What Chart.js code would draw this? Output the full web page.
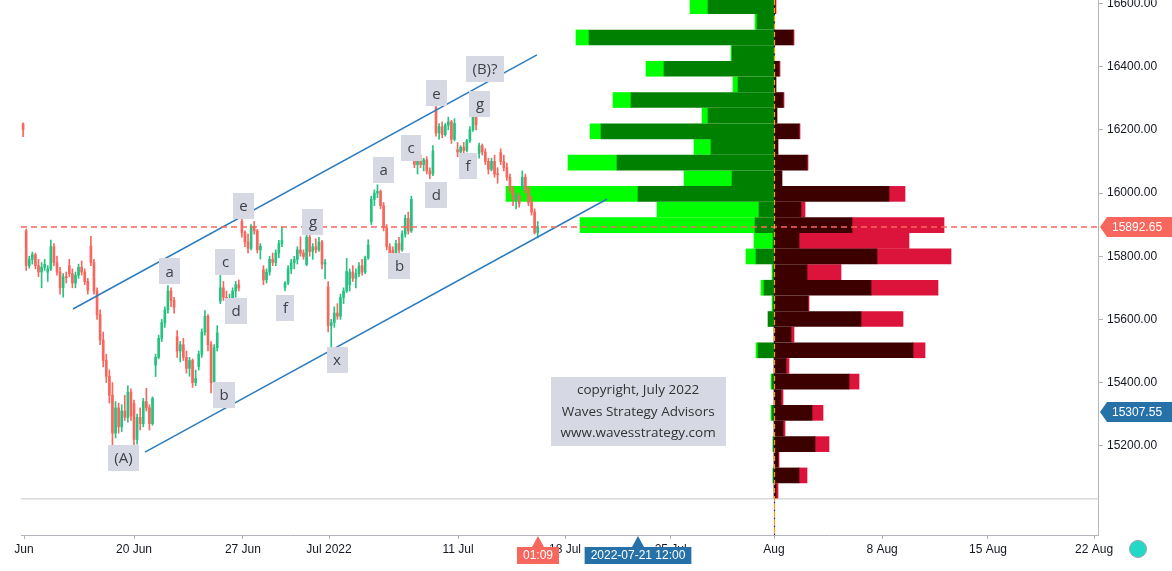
<!DOCTYPE html>
<html><head><meta charset="utf-8">
<script src="https://cdn.jsdelivr.net/npm/chart.js@4.4.0/dist/chart.umd.min.js"></script>
<style>html,body{margin:0;padding:0;background:#fff;}#wrap{width:1172px;height:571px;position:relative;}</style>
</head><body><div id="wrap"><canvas id="c" width="1172" height="571"></canvas></div>
<script>
// ---------- DATA ----------
// trading-session index relative to 20 Jun 2022 (= 0); 7 hourly bars per session
const sessionIndex = [-6,-5,-4,-3,-2,-1,0,1,2,3,4,5,6,7,8,9,10,11,12,13,14,15,16,17,18];
const barsPerSession = 7;
const firstSlot = 6; // only the last bar of 10 Jun is visible

const opens = [16218,
 15880,15770,15790,15805,15770,15750,15765,
 15749,15760,15830,15780,15750,15700,15735,
 15770,15745,15715,15740,15765,15750,15720,
 15832,15780,15690,15615,15535,15470,15420,
 15360,15240,15320,15260,15310,15290,15370,
 15334,15220,15290,15270,15340,15320,15270,
 15455,15480,15540,15590,15630,15690,15660,
 15545,15500,15520,15480,15445,15470,15400,
 15451,15490,15560,15610,15520,15400,15510,
 15657,15700,15670,15645,15660,15690,15710,
 15910,15875,15845,15825,15895,15880,15820,
 15757,15725,15750,15790,15780,15810,15840,
 15701,15715,15760,15780,15790,15820,15810,
 15774,15860,15815,15830,15820,15845,15775,
 15703,15580,15590,15620,15610,15670,15690,
 15710,15750,15730,15745,15770,15750,15795,
 15909,15980,16000,16005,15960,15890,15830,
 15818,15790,15840,15820,15870,15920,15880,
 16113,16090,16100,16090,16105,16070,16060,
 16270,16190,16210,16185,16215,16225,16170,
 16137,16130,16145,16135,16165,16200,16240,
 16126,16150,16130,16100,16075,16100,16060,
 16128,16100,16080,16050,16010,15980,15990,
 16018,16050,16010,15970,15940,15875];
const highs = [16222,
 15886,15800,15813,15810,15790,15780,15790,
 15770,15851,15840,15800,15765,15745,15750,
 15790,15760,15750,15775,15785,15760,15730,
 15863,15790,15700,15630,15560,15490,15440,
 15400,15340,15335,15330,15360,15390,15380,
 15345,15300,15320,15350,15382,15330,15355,
 15490,15550,15600,15640,15707,15700,15670,
 15565,15530,15540,15500,15480,15475,15440,
 15500,15570,15628,15615,15530,15520,15580,
 15749,15720,15690,15680,15700,15720,15725,
 15927,15880,15870,15900,15910,15885,15840,
 15770,15760,15800,15810,15820,15850,15892,
 15720,15770,15790,15800,15830,15861,15820,
 15890,15870,15840,15855,15860,15850,15790,
 15720,15600,15640,15650,15680,15700,15793,
 15760,15770,15760,15780,15790,15800,15852,
 15990,16010,16026,16010,15970,15900,15840,
 15830,15850,15860,15880,15930,15940,15990,
 16140,16110,16120,16110,16115,16080,16150,
 16275,16220,16225,16220,16240,16230,16235,
 16160,16150,16160,16170,16210,16248,16245,
 16158,16155,16140,16110,16110,16120,16080,
 16140,16120,16095,16060,16020,16000,16000,
 16070,16060,16020,15990,15950,15910];
const lows = [16178,
 15755,15762,15775,15760,15735,15700,15755,
 15720,15755,15770,15740,15680,15670,15715,
 15735,15700,15700,15730,15740,15710,15680,
 15770,15680,15600,15520,15450,15400,15335,
 15190,15225,15240,15245,15280,15275,15280,
 15191,15205,15250,15260,15310,15250,15265,
 15419,15475,15530,15575,15620,15640,15620,
 15480,15465,15470,15430,15420,15385,15390,
 15440,15480,15550,15500,15367,15395,15500,
 15650,15660,15630,15609,15640,15670,15690,
 15860,15830,15810,15820,15870,15810,15791,
 15710,15715,15740,15770,15770,15795,15830,
 15691,15710,15745,15760,15775,15800,15790,
 15770,15800,15790,15810,15815,15760,15728,
 15560,15511,15575,15600,15600,15650,15685,
 15690,15720,15700,15735,15740,15745,15790,
 15900,15960,15985,15950,15880,15820,15785,
 15768,15780,15810,15815,15860,15870,15875,
 16080,16060,16080,16070,16060,16045,16055,
 16180,16170,16175,16180,16200,16157,16165,
 16115,16120,16125,16130,16160,16195,16200,
 16110,16120,16090,16060,16070,16050,16031,
 16090,16070,16040,16000,15960,15950,15955,
 16010,16000,15960,15930,15870,15858];
const closes = [16201,
 15770,15790,15805,15770,15750,15765,15774,
 15760,15830,15780,15750,15700,15735,15732,
 15745,15715,15740,15765,15750,15720,15692,
 15780,15690,15615,15535,15470,15420,15360,
 15240,15320,15260,15310,15290,15370,15294,
 15220,15290,15270,15340,15320,15270,15350,
 15480,15540,15590,15630,15690,15660,15638,
 15500,15520,15480,15445,15470,15400,15413,
 15490,15560,15610,15520,15400,15510,15557,
 15700,15670,15645,15660,15690,15710,15699,
 15875,15845,15825,15895,15880,15820,15832,
 15725,15750,15790,15780,15810,15840,15850,
 15715,15760,15780,15790,15820,15810,15799,
 15860,15815,15830,15820,15845,15775,15780,
 15580,15590,15620,15610,15670,15690,15752,
 15750,15730,15745,15770,15750,15795,15835,
 15980,16000,16005,15960,15890,15830,15810,
 15790,15840,15820,15870,15920,15880,15980,
 16090,16100,16090,16105,16070,16060,16133,
 16190,16210,16185,16215,16225,16170,16220,
 16130,16145,16135,16165,16200,16240,16216,
 16150,16130,16100,16075,16100,16060,16058,
 16100,16080,16050,16010,15980,15990,15966,
 16050,16010,15970,15940,15875,15892.65];

// volume profile (rows top -> bottom), bins of 49.5 pts from 16616 down
const profileTop = 16616;
const profileBin = 49.5;
const buyOuter  = [18,2,13,1,18,5,18,6,11,17,49,48,132,102,175,19,10,1,3,1,0,0,2,0,1,0,1,0,0,0,0,0];
const buyInner  = [66,17,185,42,110,36,143,66,173,63,157,42,136,15,19,1,18,1,10,1,6,0,16,0,2,0,2,0,1,0,1,0];
const sellInner = [1,0,19,0,5,2,9,3,25,4,33,8,115,27,78,25,103,33,97,34,87,17,139,12,75,7,38,9,41,4,25,2];
const sellOuter = [1,0,1,0,1,0,1,0,1,0,1,0,16,4,92,110,74,34,67,1,42,3,12,3,10,2,11,2,14,1,8,2];

// axis ticks
const xTickValues = [-5.1, 0, 5.05, 9.04, 15.02, 19.98, 24.88, 29.67, 34.68, 39.59, 44.51];
const xTickLabels = ['Jun','20 Jun','27 Jun','Jul 2022','11 Jul','18 Jul','25 Jul','Aug','8 Aug','15 Aug','22 Aug'];
const yTickValues = [15200,15400,15600,15800,16000,16200,16400,16600];

// drawings
const profileAnchor = 29.67;          // 1 Aug
const upperChannel = [[-2.83,15633],[18.68,16437]];
const lowerChannel = [[0.51,15180],[21.93,15981]];
const lastPrice = 15892.65;
const baseLinePrice = 15032;
const crosshairTime = 23.37, crosshairPrice = 15307.55;
const lastBarLabel = '01:09';
const crosshairTimeLabel = '2022-07-21 12:00';
const waveLabels = [
 ['(A)',-0.49,15161],['a',1.65,15752],['b',4.17,15362],['c',4.24,15783],['d',4.73,15627],
 ['e',5.07,15959],['f',7.02,15636],['g',8.30,15908],['x',9.41,15473],['a',11.57,16073],
 ['b',12.31,15769],['c',12.84,16142],['d',14.02,15994],['e',14.02,16315],['f',15.48,16087],
 ['g',16.04,16282],['(B)?',16.27,16392]
];
const noteLines = ['copyright, July 2022','Waves Strategy Advisors','www.wavesstrategy.com'];

// ---------- BUILD ----------
const xMin = -5.24, xMax = 44.69, yMin = 14917.7, yMax = 16610.8;
const volUnit = 1/21.57; // profile volume unit in time units

const times = [];
{ let s = 0, slot = firstSlot;
  for (let i = 0; i < closes.length; i++) {
    times.push(sessionIndex[s] + slot / barsPerSession);
    slot++; if (slot === barsPerSession) { slot = 0; s++; }
  } }
const UP = '#26c281', DN = '#f7675d';
const candleColors = closes.map((c,i)=> c >= opens[i] ? UP : DN);

const rowCenter = k => profileTop - (k + 0.5) * profileBin;
function profileSet(fn, color){
  const data = [];
  for (let k = 0; k < buyInner.length; k++) {
    const r = fn(k); if (r[1] - r[0] > 0) data.push({y: rowCenter(k), x: r});
  }
  return {type:'bar', indexAxis:'y', data, backgroundColor: color, barThickness: 15, grouped:false, order: 10, borderWidth:0};
}
const A = profileAnchor;
const datasets = [
  profileSet(k=>[A - buyInner[k]*volUnit, A], '#008000'),
  profileSet(k=>[A - (buyInner[k]+buyOuter[k])*volUnit, A - buyInner[k]*volUnit], '#00ff00'),
  profileSet(k=>[A, A + sellInner[k]*volUnit], '#3d0000'),
  profileSet(k=>[A + sellInner[k]*volUnit, A + (sellInner[k]+sellOuter[k])*volUnit], '#dc143c'),
  {type:'line', data:[{x:xMin,y:baseLinePrice},{x:xMax,y:baseLinePrice}], borderColor:'#c3c6cd', borderWidth:1, pointRadius:0, order:9},
  {type:'bar', data: times.map((t,i)=>({x:t, y:[lows[i], highs[i]]})), backgroundColor:candleColors, barThickness:1, grouped:false, order:5},
  {type:'bar', data: times.map((t,i)=>({x:t, y:[Math.min(opens[i],closes[i]), Math.max(opens[i],closes[i])]})), backgroundColor:candleColors, barThickness:2, minBarLength:1, grouped:false, order:4},
  {type:'line', data: upperChannel.map(p=>({x:p[0],y:p[1]})), borderColor:'#2b7bbf', borderWidth:1.5, pointRadius:0, order:3},
  {type:'line', data: lowerChannel.map(p=>({x:p[0],y:p[1]})), borderColor:'#2b7bbf', borderWidth:1.5, pointRadius:0, order:3},
  {type:'line', data:[{x:xMin,y:lastPrice},{x:xMax,y:lastPrice}], borderColor:'#f7675d', borderWidth:1.5, borderDash:[6,4], pointRadius:0, order:2}
];

const AXIS_FONT = '12px "Liberation Sans", Arial, sans-serif';
const overlay = {
  id:'overlay',
  afterDatasetsDraw(chart){
    const ctx = chart.ctx, xs = chart.scales.x, ys = chart.scales.y, ca = chart.chartArea;
    // anchor vertical line
    const ax = Math.round(xs.getPixelForValue(profileAnchor)) + 0.5;
    ctx.save();
    ctx.lineWidth = 1.2;
    ctx.strokeStyle = '#f5a300'; ctx.setLineDash([5,3]);
    ctx.beginPath(); ctx.moveTo(ax, ca.top); ctx.lineTo(ax, ca.bottom); ctx.stroke();
    ctx.strokeStyle = '#222'; ctx.setLineDash([2,6]); ctx.lineDashOffset = -5.5;
    ctx.beginPath(); ctx.moveTo(ax, ca.top); ctx.lineTo(ax, ca.bottom); ctx.stroke();
    ctx.restore();
    // wave labels
    ctx.save();
    ctx.font = '15px "Open Sans", sans-serif';
    ctx.textAlign = 'center'; ctx.textBaseline = 'middle';
    for (const [t, d, v] of waveLabels) {
      const cx = xs.getPixelForValue(d), cy = ys.getPixelForValue(v);
      const w = ctx.measureText(t).width + 13, h = 26;
      ctx.fillStyle = '#d6d9e3';
      ctx.fillRect(Math.round(cx - w/2), Math.round(cy - h/2), Math.round(w), h);
      ctx.fillStyle = '#3f4049';
      ctx.fillText(t, cx, cy + 1);
    }
    // copyright note
    const nx = xs.getPixelForValue(crosshairTime), ny = ys.getPixelForValue(crosshairPrice);
    ctx.font = '13.5px "Open Sans", sans-serif';
    ctx.fillStyle = '#d6d9e3';
    ctx.fillRect(Math.round(nx - 87), Math.round(ny - 34.5), 175, 69);
    ctx.fillStyle = '#333';
    noteLines.forEach((s, i) => ctx.fillText(s, nx, ny - 21.5 + i*21.5));
    ctx.restore();
  },
  afterDraw(chart){
    const ctx = chart.ctx, xs = chart.scales.x, ys = chart.scales.y, ca = chart.chartArea;
    ctx.save();
    ctx.font = AXIS_FONT; ctx.textBaseline = 'middle';
    function yBadge(v, color){
      const y = Math.round(ys.getPixelForValue(v));
      const x0 = ca.right + 2;
      ctx.fillStyle = color;
      ctx.beginPath();
      ctx.moveTo(x0, y); ctx.lineTo(x0 + 7, y - 10); ctx.lineTo(1172, y - 10);
      ctx.lineTo(1172, y + 10); ctx.lineTo(x0 + 7, y + 10); ctx.closePath(); ctx.fill();
      ctx.fillStyle = '#fff'; ctx.textAlign = 'left';
      ctx.fillText(v.toFixed(2), x0 + 12, y + 0.5);
    }
    function xBadge(t, text, color){
      const x = Math.round(xs.getPixelForValue(t));
      const w = ctx.measureText(text).width + 12, top = ca.bottom + 12, h = 17;
      ctx.fillStyle = color;
      ctx.beginPath();
      ctx.moveTo(x, ca.bottom + 1); ctx.lineTo(x + 6, top); ctx.lineTo(x + w/2, top);
      ctx.lineTo(x + w/2, top + h); ctx.lineTo(x - w/2, top + h); ctx.lineTo(x - w/2, top);
      ctx.lineTo(x - 6, top); ctx.closePath(); ctx.fill();
      ctx.fillStyle = '#fff'; ctx.textAlign = 'center';
      ctx.fillText(text, x, top + h/2 + 0.5);
    }
    yBadge(lastPrice, '#f7675d');
    yBadge(crosshairPrice, '#2672a8');
    xBadge(times[times.length-1], lastBarLabel, '#f7675d');
    xBadge(crosshairTime, crosshairTimeLabel, '#2672a8');
    // corner button
    ctx.beginPath(); ctx.arc(1138, 549, 8.5, 0, Math.PI*2);
    ctx.fillStyle = '#22d8c6'; ctx.fill();
    ctx.strokeStyle = '#9aa3ad'; ctx.lineWidth = 1; ctx.stroke();
    ctx.restore();
  }
};

new Chart(document.getElementById('c').getContext('2d'), {
  type:'bar',
  data:{datasets},
  options:{
    responsive:false, animation:false, events:[],
    layout:{padding:{left:21, right:0, top:0, bottom:0}},
    plugins:{legend:{display:false}, tooltip:{enabled:false}},
    scales:{
      x:{type:'linear', position:'bottom', min:xMin, max:xMax, offset:false,
        grid:{display:true, offset:false, drawOnChartArea:false, drawTicks:true, tickLength:4, color:'#b2b5be'},
        border:{display:true, color:'#b2b5be'},
        ticks:{autoSkip:false, maxRotation:0, padding:3, color:'#131722', font:{family:'"Liberation Sans", Arial, sans-serif', size:12},
          callback:(v)=>{ const i = xTickValues.indexOf(v); return i >= 0 ? xTickLabels[i] : ''; }},
        afterBuildTicks:s=>{ s.ticks = xTickValues.map(v=>({value:v})); },
        afterFit:s=>{ s.height = 36; s.paddingLeft = 0; s.paddingRight = 0; }
      },
      y:{type:'linear', position:'right', min:yMin, max:yMax, offset:false,
        grid:{display:true, offset:false, drawOnChartArea:false, drawTicks:true, tickLength:5, color:'#b2b5be'},
        border:{display:true, color:'#b2b5be'},
        ticks:{autoSkip:false, padding:4, color:'#131722', font:{family:'"Liberation Sans", Arial, sans-serif', size:12},
          callback:v=>Number(v).toFixed(2)},
        afterBuildTicks:s=>{ s.ticks = yTickValues.map(v=>({value:v})); },
        afterFit:s=>{ s.width = 74; s.paddingTop = 0; s.paddingBottom = 0; }
      }
    }
  },
  plugins:[overlay]
});
</script></body></html>
